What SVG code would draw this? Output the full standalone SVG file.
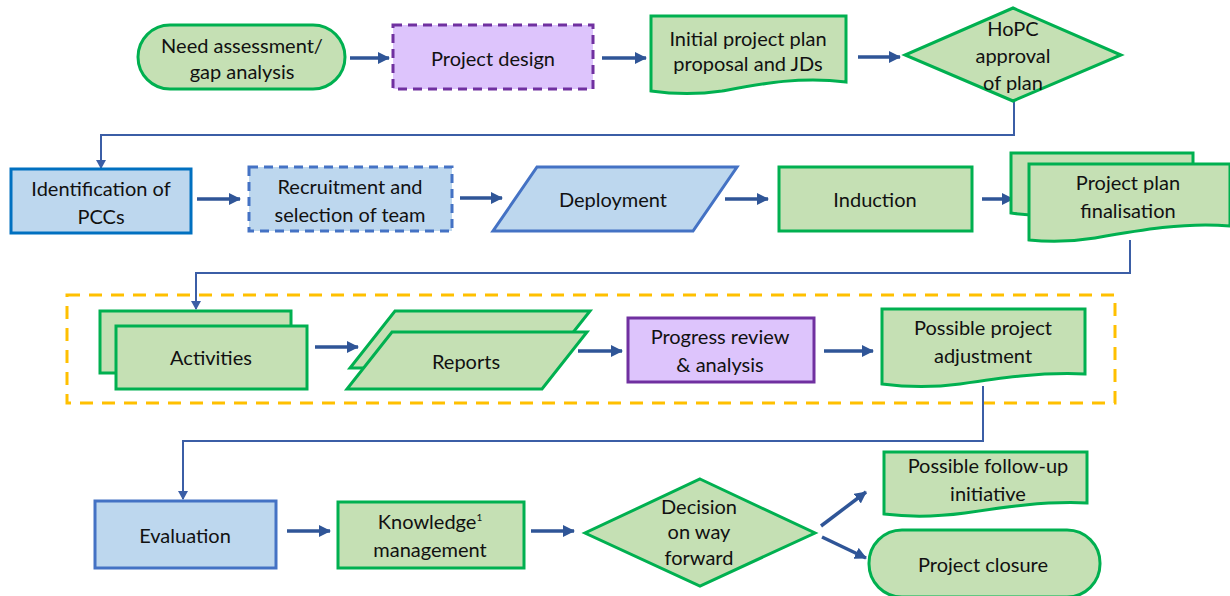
<svg xmlns="http://www.w3.org/2000/svg" width="1230" height="596" viewBox="0 0 1230 596">
  <style>
    .t { font-family: Lato, "Liberation Sans", sans-serif; font-size: 20px; fill: #111; text-anchor: middle; dominant-baseline: central; }
    .g { fill: #c5e0b4; stroke: #00b050; stroke-width: 3; }
    .b { fill: #bdd7ee; stroke: #4472c4; stroke-width: 3; }
    .p { fill: #ddc4fc; stroke: #7030a0; stroke-width: 3; }
    .dash { stroke-dasharray: 9 6; }
    .arr { stroke: #2f5597; stroke-width: 3.5; fill: none; marker-end: url(#ah); }
    .elb { stroke: #3b5ea6; stroke-width: 2; fill: none; marker-end: url(#ahs); }
  </style>
  <defs>
    <marker id="ah" markerUnits="userSpaceOnUse" markerWidth="12" markerHeight="12" refX="11" refY="6" orient="auto">
      <path d="M0,0 L12,6 L0,12 Z" fill="#2f5597"/>
    </marker>
    <marker id="ahs" markerUnits="userSpaceOnUse" markerWidth="9" markerHeight="10" refX="8" refY="5" orient="auto">
      <path d="M0,0 L9,5 L0,10 Z" fill="#3b5ea6"/>
    </marker>
  </defs>
  <rect width="1230" height="596" fill="#fff"/>

  <!-- monitoring loop container -->
  <rect x="67" y="295" width="1048" height="108" fill="none" stroke="#ffc000" stroke-width="3" stroke-dasharray="13 9"/>

  <!-- connectors -->
  <g id="connectors">
    <line class="arr" x1="350" y1="58" x2="389" y2="58"/>
    <line class="arr" x1="602" y1="58" x2="646" y2="58"/>
    <line class="arr" x1="858" y1="57" x2="900" y2="57"/>
    <polyline class="elb" points="1014,101 1014,135 101,135 101,168"/>
    <line class="arr" x1="197" y1="199" x2="240" y2="199"/>
    <line class="arr" x1="460" y1="198" x2="502" y2="198"/>
    <line class="arr" x1="725" y1="199" x2="768" y2="199"/>
    <line class="arr" x1="982" y1="199" x2="1013" y2="199"/>
    <polyline class="elb" points="1130,240 1130,273 196,273 196,309"/>
    <line class="arr" x1="315" y1="347" x2="358" y2="347"/>
    <line class="arr" x1="578" y1="351" x2="622" y2="351"/>
    <line class="arr" x1="824" y1="351" x2="873" y2="351"/>
    <polyline class="elb" points="983,386 983,441 183,441 183,499"/>
    <line class="arr" x1="287" y1="531" x2="330" y2="531"/>
    <line class="arr" x1="531" y1="531" x2="574" y2="531"/>
    <line class="arr" x1="821" y1="526" x2="866" y2="492"/>
    <line class="arr" x1="822" y1="537" x2="866" y2="558"/>
  </g>

  <g id="need-assessment">
    <rect class="g" x="138" y="25" width="207" height="64" rx="32"/>
    <text class="t" x="242" y="45">Need assessment/</text>
    <text class="t" x="242" y="71">gap analysis</text>
  </g>

  <g id="project-design">
    <rect class="p dash" x="393" y="25" width="200" height="64"/>
    <text class="t" x="493" y="58">Project design</text>
  </g>

  <g id="initial-plan">
    <path class="g" d="M651,16 H846 V82 C800,76 760,84 722,91 C695,95 672,94 651,91 Z"/>
    <text class="t" x="748" y="38">Initial project plan</text>
    <text class="t" x="748" y="63">proposal and JDs</text>
  </g>

  <g id="hopc-approval">
    <path class="g" d="M1013,8 L1121,55 L1013,101 L905,55 Z"/>
    <text class="t" x="1013" y="28">HoPC</text>
    <text class="t" x="1013" y="55">approval</text>
    <text class="t" x="1013" y="82">of plan</text>
  </g>

  <g id="identification">
    <rect class="b" x="11" y="169" width="180" height="64" style="stroke:#0070c0"/>
    <text class="t" x="101" y="188">Identification of</text>
    <text class="t" x="101" y="216">PCCs</text>
  </g>

  <g id="recruitment">
    <rect class="b dash" x="249" y="167" width="203" height="64"/>
    <text class="t" x="350" y="186">Recruitment and</text>
    <text class="t" x="350" y="214">selection of team</text>
  </g>

  <g id="deployment">
    <path class="b" d="M537,167 H737 L693,231 H493 Z"/>
    <text class="t" x="613" y="199">Deployment</text>
  </g>

  <g id="induction">
    <rect class="g" x="779" y="167" width="193" height="64"/>
    <text class="t" x="875" y="199">Induction</text>
  </g>

  <g id="plan-finalisation">
    <path class="g" d="M1011,153 H1193 V205 C1150,202 1100,208 1060,214 C1040,216 1025,215 1011,213 Z"/>
    <path class="g" d="M1029,164 H1230 V226 C1185,222 1140,230 1095,238 C1070,242 1048,242 1029,240 Z"/>
    <text class="t" x="1128" y="182">Project plan</text>
    <text class="t" x="1128" y="210">finalisation</text>
  </g>

  <g id="activities">
    <rect class="g" x="100" y="311" width="191" height="62"/>
    <rect class="g" x="116" y="326" width="191" height="63"/>
    <text class="t" x="211" y="357">Activities</text>
  </g>

  <g id="reports">
    <path class="g" d="M395,311 H590 L545,368 H350 Z"/>
    <path class="g" d="M392,332 H587 L542,389 H347 Z"/>
    <text class="t" x="466" y="361">Reports</text>
  </g>

  <g id="progress-review">
    <rect class="p" x="628" y="318" width="186" height="64"/>
    <text class="t" x="720" y="336">Progress review</text>
    <text class="t" x="720" y="364">&amp; analysis</text>
  </g>

  <g id="project-adjustment">
    <path class="g" d="M882,309 H1085 V374 C1040,372 1000,378 960,384 C930,388 905,387 882,384 Z"/>
    <text class="t" x="983" y="327">Possible project</text>
    <text class="t" x="983" y="355">adjustment</text>
  </g>

  <g id="evaluation">
    <rect class="b" x="95" y="501" width="181" height="67"/>
    <text class="t" x="185" y="535">Evaluation</text>
  </g>

  <g id="knowledge-management">
    <rect class="g" x="338" y="502" width="186" height="66"/>
    <text class="t" x="430" y="521">Knowledge<tspan font-size="10" dy="-4">1</tspan></text>
    <text class="t" x="430" y="549">management</text>
  </g>

  <g id="decision">
    <path class="g" d="M700,479 L815,533 L700,586 L585,533 Z"/>
    <text class="t" x="699" y="506">Decision</text>
    <text class="t" x="699" y="531">on way</text>
    <text class="t" x="699" y="557">forward</text>
  </g>

  <g id="follow-up">
    <path class="g" d="M884,452 H1087 V503 C1045,501 1005,507 965,513 C935,517 908,517 884,514 Z"/>
    <text class="t" x="988" y="465">Possible follow-up</text>
    <text class="t" x="988" y="493">initiative</text>
  </g>

  <g id="project-closure">
    <rect class="g" x="869" y="530" width="231" height="67" rx="33"/>
    <text class="t" x="983" y="564">Project closure</text>
  </g>
</svg>
